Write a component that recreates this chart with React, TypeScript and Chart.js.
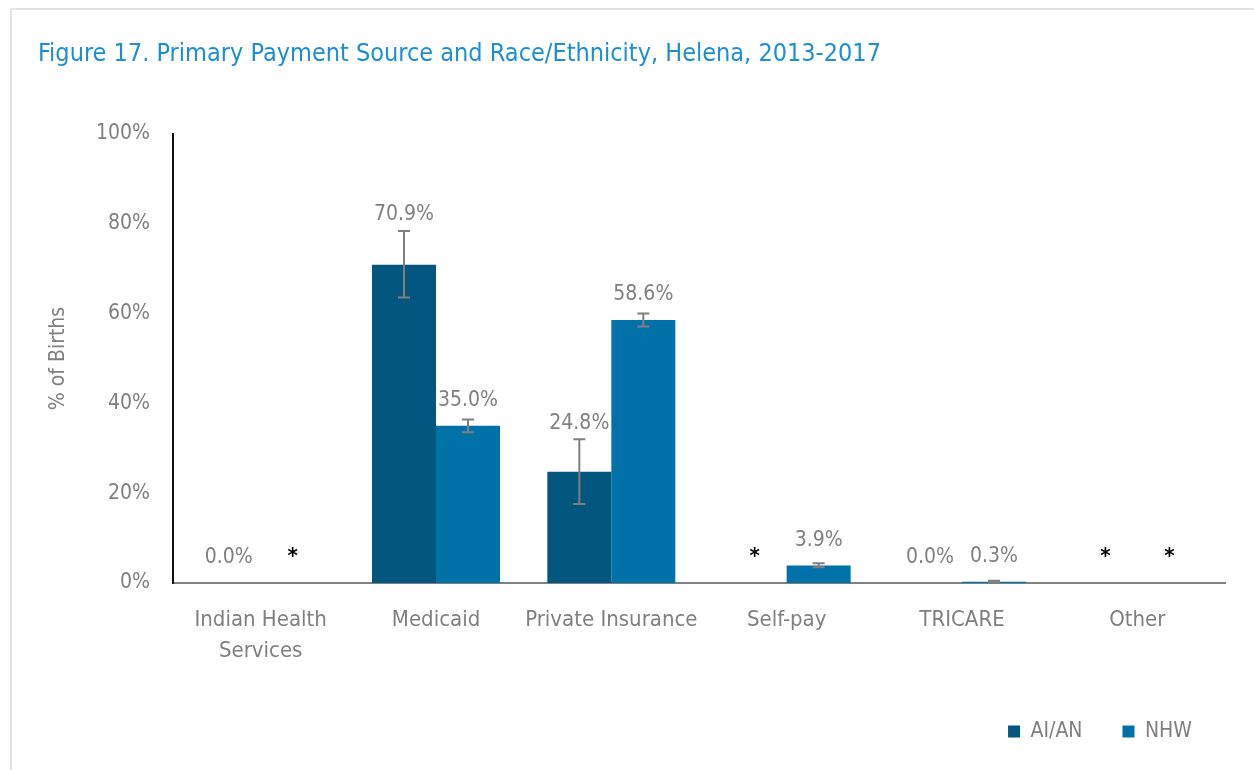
import React, { useEffect, useRef } from "react";
import { Chart, registerables } from "chart.js";

Chart.register(...registerables);

const categories: (string | string[])[] = [
  ["Indian Health", "Services"],
  "Medicaid",
  "Private Insurance",
  "Self-pay",
  "TRICARE",
  "Other",
];
const seriesNames = ["AI/AN", "NHW"];
const aianValues: (number | null)[] = [0, 70.9, 24.8, null, 0, null];
const nhwValues: (number | null)[] = [null, 35.0, 58.6, 3.9, 0.3, null];
const aianLow: (number | null)[] = [0, 63.6, 17.6, null, 0, null];
const aianHigh: (number | null)[] = [0, 78.4, 32.0, null, 0, null];
const nhwLow: (number | null)[] = [null, 33.6, 57.1, 3.5, 0.1, null];
const nhwHigh: (number | null)[] = [null, 36.4, 60.0, 4.4, 0.5, null];
const yTicks = [0, 20, 40, 60, 80, 100];

const FONT = "'Liberation Sans Narrow', 'Arial Narrow', 'DejaVu Sans Condensed', sans-serif";
const GRAY = "#7f7f7f";
const COLORS = ["#03567d", "#0172a8"];

const overlayPlugin = {
  id: "errorsAndLabels",
  afterLayout(chart: any) {
    if (chart.legend) {
      chart.legend.left += 7;
      chart.legend.right += 7;
    }
  },
  afterDatasetsDraw(chart: any) {
    const ctx = chart.ctx;
    const y = chart.scales.y;
    const lows = [aianLow, nhwLow];
    const highs = [aianHigh, nhwHigh];
    const vals = [aianValues, nhwValues];
    ctx.save();
    chart.data.datasets.forEach((_ds: any, di: number) => {
      const meta = chart.getDatasetMeta(di);
      meta.data.forEach((bar: any, i: number) => {
        const v = vals[di][i];
        const x = bar.x;
        const zeroPx = y.getPixelForValue(0);
        if (v === null) {
          ctx.fillStyle = "#000";
          ctx.font = `bold 22px ${FONT}`;
          ctx.textAlign = "center";
          ctx.textBaseline = "bottom";
          ctx.fillText("*", x, zeroPx - 15);
          return;
        }
        const lo = lows[di][i];
        const hi = highs[di][i];
        const barTop = y.getPixelForValue(v);
        let labelY = barTop - 25;
        if (lo !== null && hi !== null && hi > lo) {
          const pLo = y.getPixelForValue(lo);
          const pHi = y.getPixelForValue(hi);
          ctx.strokeStyle = GRAY;
          ctx.lineWidth = 2;
          ctx.beginPath();
          ctx.moveTo(x, pLo);
          ctx.lineTo(x, pHi);
          ctx.moveTo(x - 6, pLo);
          ctx.lineTo(x + 6, pLo);
          ctx.moveTo(x - 6, pHi);
          ctx.lineTo(x + 6, pHi);
          ctx.stroke();
          labelY = Math.min(labelY, pHi - 16);
        }
        ctx.fillStyle = GRAY;
        ctx.font = `21px ${FONT}`;
        ctx.textAlign = "center";
        ctx.textBaseline = "middle";
        ctx.fillText(`${v.toFixed(1)}%`, x, labelY);
      });
    });
    ctx.restore();
  },
};

export default function App() {
  const ref = useRef<HTMLCanvasElement | null>(null);

  useEffect(() => {
    if (!ref.current) return;
    const chart = new Chart(ref.current, {
      type: "bar",
      data: {
        labels: categories as any,
        datasets: [
          {
            label: seriesNames[0],
            data: aianValues as any,
            backgroundColor: COLORS[0],
            categoryPercentage: 0.73,
            barPercentage: 1,
          },
          {
            label: seriesNames[1],
            data: nhwValues as any,
            backgroundColor: COLORS[1],
            categoryPercentage: 0.73,
            barPercentage: 1,
          },
        ],
      },
      options: {
        animation: false,
        responsive: false,
        layout: { padding: { left: 38, right: 29, top: 0, bottom: 18 } },
        plugins: {
          title: {
            display: true,
            text: "Figure 17. Primary Payment Source and Race/Ethnicity, Helena, 2013-2017",
            align: "start",
            color: "#1b8fd2",
            font: { family: FONT, size: 25, weight: "normal" },
            padding: { top: 39, bottom: 65 },
          },
          legend: {
            position: "bottom",
            align: "end",
            labels: {
              boxWidth: 12,
              boxHeight: 12,
              color: GRAY,
              font: { family: FONT, size: 21 },
              padding: 40,
            },
          },
          tooltip: { enabled: false },
        },
        scales: {
          x: {
            grid: { display: false },
            border: { display: true, color: "#808080", width: 2 },
            ticks: {
              color: GRAY,
              font: { family: FONT, size: 22, lineHeight: 1.4 },
              padding: 14,
              maxRotation: 0,
              autoSkip: false,
            },
            afterFit(scale: any) {
              scale.height = 98;
            },
          },
          y: {
            min: 0,
            max: 100,
            afterBuildTicks(scale: any) {
              scale.ticks = yTicks.map((v) => ({ value: v }));
            },
            grid: { display: false },
            border: { display: true, color: "#111", width: 2 },
            ticks: {
              color: GRAY,
              font: { family: FONT, size: 21 },
              padding: 15,
              callback: (v: any) => `${v}%`,
            },
            title: {
              display: true,
              text: "% of Births",
              color: GRAY,
              font: { family: FONT, size: 21 },
              padding: { top: 8, bottom: 0 },
            },
            afterFit(scale: any) {
              scale.width = 135;
            },
          },
        },
      },
      plugins: [overlayPlugin],
    });
    return () => chart.destroy();
  }, []);

  return (
    <div style={{ position: "fixed", left: 0, top: 0, width: 1254, height: 770, background: "#fff" }}>
      <div
        style={{
          position: "absolute",
          left: 10,
          top: 8,
          right: 0,
          bottom: 0,
          borderTop: "2px solid #e4e4e4",
          borderLeft: "2px solid #e4e4e4",
        }}
      />
      <canvas ref={ref} width={1254} height={770} style={{ position: "absolute", left: 0, top: 0 }} />
    </div>
  );
}
